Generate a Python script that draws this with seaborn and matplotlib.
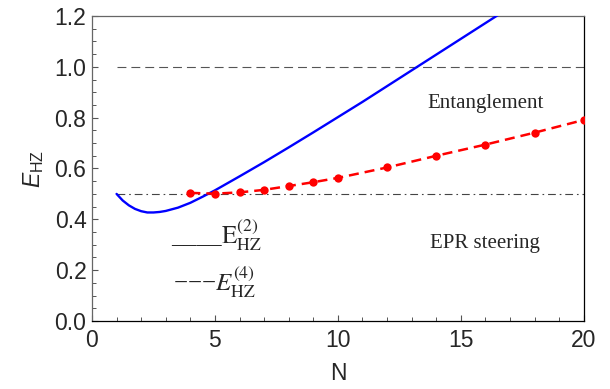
import numpy as np
import pandas as pd
import matplotlib
matplotlib.use("Agg")
import matplotlib.pyplot as plt
from matplotlib.ticker import MultipleLocator
import seaborn as sns

# Second-order criterion E_HZ^(2) versus N
n_e2 = [1.0, 1.25, 1.5, 1.75, 2.0, 2.25, 2.5, 2.75, 3.0, 3.5, 4.0, 4.5, 5.0, 6.0, 7.0,
        8.0, 9.0, 10.0, 11.0, 12.0, 13.0, 14.0, 15.0, 16.0, 16.5]
e2 = [0.500, 0.474, 0.455, 0.441, 0.432, 0.427, 0.427, 0.429, 0.433, 0.446, 0.465,
      0.489, 0.514, 0.569, 0.625, 0.683, 0.742, 0.802, 0.862, 0.924, 0.986, 1.048,
      1.110, 1.172, 1.203]

# Fourth-order criterion E_HZ^(4) at sampled N
n_e4 = [4, 5, 6, 7, 8, 9, 10, 12, 14, 16, 18, 20]
e4 = [0.504, 0.501, 0.506, 0.516, 0.531, 0.546, 0.563, 0.604, 0.650, 0.694, 0.741, 0.791]

# Bounds
entanglement_bound = 1.0
steering_bound = 0.5
bound_span = [1, 20]

x_ticks = [0, 5, 10, 15, 20]
y_ticks = [0.0, 0.2, 0.4, 0.6, 0.8, 1.0, 1.2]

sns.set_style("ticks")
plt.rcParams["font.family"] = ["Liberation Sans", "DejaVu Sans"]
plt.rcParams["mathtext.fontset"] = "custom"
plt.rcParams["mathtext.rm"] = "Liberation Sans"
plt.rcParams["mathtext.it"] = "Liberation Sans:italic"

fig = plt.figure(figsize=(6.10, 3.89), dpi=100)
ax = fig.add_axes([0.1508, 0.1748, 0.957 - 0.1508, 0.9589 - 0.1748])

df2 = pd.DataFrame({"N": n_e2, "E": e2})
df4 = pd.DataFrame({"N": n_e4, "E": e4})

ax.plot(bound_span, [entanglement_bound] * 2, color="#555555", lw=0.8,
        dashes=(8, 4.5), zorder=1)
ax.plot(bound_span, [steering_bound] * 2, color="#444444", lw=0.8,
        dashes=(7, 3.5, 1.5, 3.5), zorder=1)

sns.lineplot(data=df2, x="N", y="E", ax=ax, color="#0000ff", lw=1.7, zorder=3)
sns.lineplot(data=df4, x="N", y="E", ax=ax, color="#ff0000", lw=1.8,
             marker="o", markersize=6, markeredgewidth=0, dashes=False, zorder=4)
ax.lines[-1].set_dashes((4, 2.4))

ax.set_xlim(0, 20)
ax.set_ylim(0, 1.2)
ax.set_xticks(x_ticks)
ax.set_yticks(y_ticks)
ax.set_xticklabels([str(t) for t in x_ticks])
ax.set_yticklabels([f"{t:.1f}" for t in y_ticks])
ax.xaxis.set_minor_locator(MultipleLocator(1))
ax.yaxis.set_minor_locator(MultipleLocator(0.05))
ax.tick_params(which="both", direction="in", top=False, right=False,
               labelsize=16.5, color="#555555")
ax.tick_params(axis="x", which="major", length=4.5, width=0.8, pad=6)
ax.tick_params(axis="y", which="major", length=4.5, width=0.8, pad=4)
ax.tick_params(which="minor", length=3, width=0.7)

for side in ["left", "top"]:
    ax.spines[side].set_color("#666666")
for side in ["bottom", "right"]:
    ax.spines[side].set_color("black")
for s in ax.spines.values():
    s.set_visible(True)
    s.set_linewidth(0.9)

ax.set_xlabel("N", fontsize=16.5, labelpad=7)
ax.set_ylabel(r"$E_{\mathrm{HZ}}$", fontsize=16.5, labelpad=6, math_fontfamily="custom")

serif = ["Liberation Serif", "DejaVu Serif"]
ax.text(16.0, 0.854, "Entanglement", family=serif, fontsize=15, ha="center", va="center")
ax.text(16.0, 0.303, "EPR steering", family=serif, fontsize=15, ha="center", va="center")
ax.text(3.2, 0.30, r"____$\mathrm{E}_{\mathrm{HZ}}^{(2)}$", family=serif, fontsize=18,
        ha="left", va="baseline", math_fontfamily="stix")
ax.text(3.3, 0.115, "\u2212\u2212\u2212" + r"$E_{\mathrm{HZ}}^{(4)}$", family=serif,
        fontsize=18, ha="left", va="baseline", math_fontfamily="stix")

fig.savefig("out.png", dpi=100)
